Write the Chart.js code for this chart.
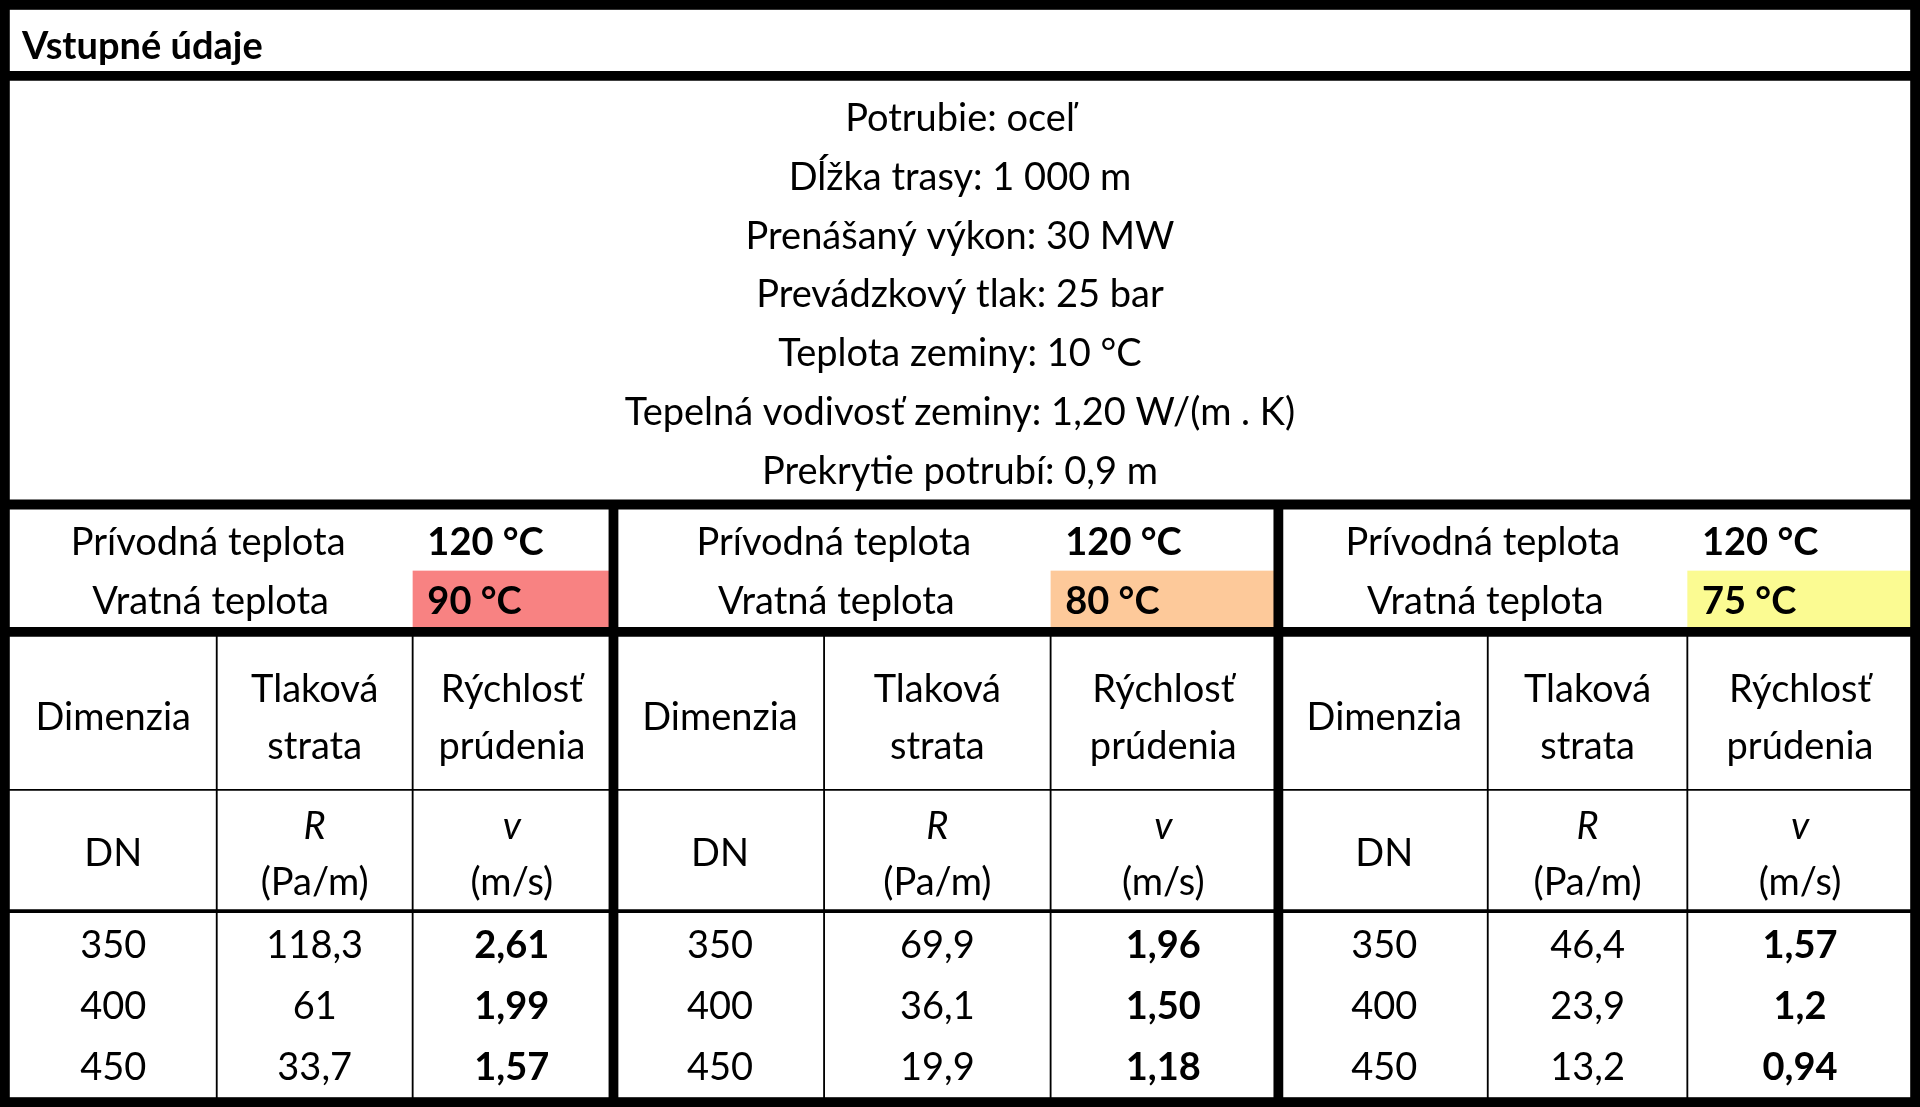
<!DOCTYPE html>
<html>
<head>
<meta charset="utf-8">
<script src="https://cdn.jsdelivr.net/npm/chart.js@4"></script>
<style>
  html, body { margin: 0; padding: 0; background: #fff; }
  canvas { display: block; }
</style>
</head>
<body>
<canvas id="chart" width="1920" height="1107"></canvas>
<script>
// table content
const title = 'Vstupné údaje';
const infoLines = ['Potrubie: oceľ', 'Dĺžka trasy: 1 000 m', 'Prenášaný výkon: 30 MW',
  'Prevádzkový tlak: 25 bar', 'Teplota zeminy: 10 °C',
  'Tepelná vodivosť zeminy: 1,20 W/(m . K)', 'Prekrytie potrubí: 0,9 m'];
const supplyTemps = ['120 °C', '120 °C', '120 °C'];
const returnTemps = ['90 °C', '80 °C', '75 °C'];
const returnColors = ['#f88282', '#fdc99a', '#fbfb92'];
const dimensions = ['350', '400', '450'];
const pressureLoss = [['118,3', '61', '33,7'], ['69,9', '36,1', '19,9'], ['46,4', '23,9', '13,2']];
const velocity = [['2,61', '1,99', '1,57'], ['1,96', '1,50', '1,18'], ['1,57', '1,2', '0,94']];

// grid in reference units (1568 x 904)
const sections = [
  { x0: 8, cols: [8, 177, 337, 499], label: 170 },
  { x0: 503, cols: [503, 673, 858, 1042], label: 681 },
  { x0: 1046, cols: [1046, 1215, 1378, 1562], label: 1211 }
];
const dataRowsY = [772, 822, 872];

const tablePlugin = {
  id: 'table',
  afterDraw(chart) {
    const ctx = chart.ctx;
    const sx = chart.scales.x, sy = chart.scales.y;
    const X = v => sx.getPixelForValue(v);
    const Y = v => sy.getPixelForValue(v);
    const k = (X(1568) - X(0)) / 1568;
    const font = (w, style) => (style || '') + ' ' + w + ' ' + Math.round(31 * k) + 'px Lato, "Open Sans", sans-serif';
    const text = (s, x, y, opts = {}) => {
      ctx.font = font(opts.bold ? 'bold' : 'normal', opts.italic ? 'italic' : '');
      ctx.fillStyle = '#000';
      ctx.textAlign = opts.align || 'center';
      ctx.textBaseline = 'middle';
      ctx.fillText(s, X(x), Y(y));
    };
    const line = (x1, y1, x2, y2, w) => {
      ctx.beginPath();
      ctx.lineWidth = w * k;
      ctx.strokeStyle = '#000';
      ctx.moveTo(X(x1), Y(y1));
      ctx.lineTo(X(x2), Y(y2));
      ctx.stroke();
    };
    ctx.save();

    // coloured return temperature cells
    sections.forEach((s, i) => {
      ctx.fillStyle = returnColors[i];
      ctx.fillRect(X(s.cols[2]), Y(466), X(s.cols[3]) - X(s.cols[2]), Y(514) - Y(466));
    });

    // texts
    text(title, 18, 38, { bold: true, align: 'left' });
    infoLines.forEach((t, i) => text(t, 784, 97 + i * 48));
    sections.forEach((s, i) => {
      const c = s.cols;
      const mid = j => (c[j] + c[j + 1]) / 2;
      text('Prívodná teplota', s.label, 443);
      text('Vratná teplota', s.label + 2, 491);
      text(supplyTemps[i], c[2] + 12, 443, { bold: true, align: 'left' });
      text(returnTemps[i], c[2] + 12, 491, { bold: true, align: 'left' });
      text('Dimenzia', mid(0), 586);
      text('Tlaková', mid(1), 563);
      text('strata', mid(1), 610);
      text('Rýchlosť', mid(2), 563);
      text('prúdenia', mid(2), 610);
      text('DN', mid(0), 697);
      text('R', mid(1), 675, { italic: true });
      text('(Pa/m)', mid(1), 721);
      text('v', mid(2), 675, { italic: true });
      text('(m/s)', mid(2), 721);
      dataRowsY.forEach((y, r) => {
        text(dimensions[r], mid(0), y);
        text(pressureLoss[i][r], mid(1), y);
        text(velocity[i][r], mid(2), y, { bold: true });
      });
    });

    // grid lines
    sections.forEach(s => {
      const c = s.cols;
      [c[1], c[2]].forEach(x => line(x, 518, x, 900, 1.5));
    });
    line(4, 645, 1564, 645, 1.5);
    line(4, 744, 1564, 744, 3);
    line(4, 62, 1564, 62, 8);
    line(4, 412, 1564, 412, 8);
    line(4, 516, 1564, 516, 8);
    line(501, 412, 501, 900, 8);
    line(1044, 412, 1044, 900, 8);
    ctx.lineWidth = 8 * k;
    ctx.strokeRect(X(4), Y(4), X(1564) - X(4), Y(900) - Y(4));
    ctx.restore();
  }
};

new Chart(document.querySelector('#chart').getContext('2d'), {
  type: 'scatter',
  data: { datasets: [{ data: [] }] },
  options: {
    responsive: false,
    animation: false,
    layout: { padding: 0 },
    plugins: { legend: { display: false }, tooltip: { enabled: false } },
    scales: {
      x: { type: 'linear', min: 0, max: 1568, display: false },
      y: { type: 'linear', min: 0, max: 904, reverse: true, display: false }
    }
  },
  plugins: [tablePlugin]
});
</script>
</body>
</html>
